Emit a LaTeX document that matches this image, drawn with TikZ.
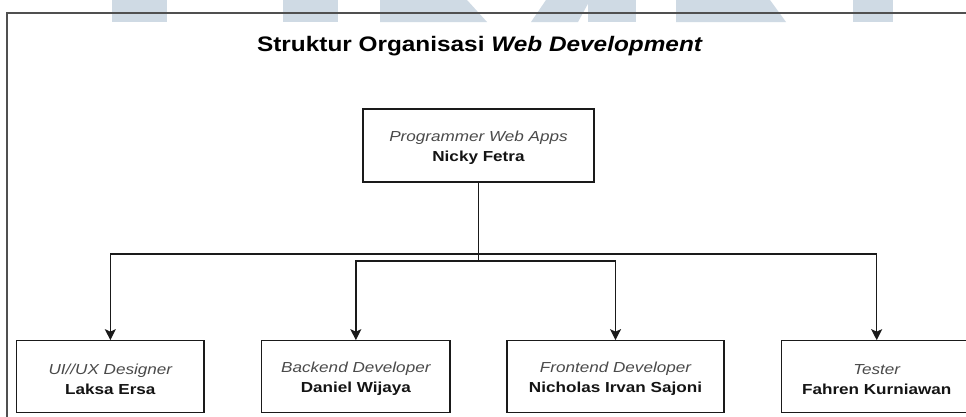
\documentclass[tikz,border=0pt]{standalone}
\usepackage{fontspec}
\setmainfont{Liberation Sans}
\usepackage{graphicx}
\usetikzlibrary{arrows.meta}
\definecolor{wm}{HTML}{CFDAE4}
\definecolor{framec}{HTML}{505050}
\definecolor{linec}{HTML}{1A1A1A}
\definecolor{rolec}{HTML}{4A4A4A}
\definecolor{namec}{HTML}{141414}
\newcommand{\wide}[1]{\scalebox{1.18}[1]{#1}}
\newcommand{\role}[1]{\rule{0pt}{15pt}\wide{\color{rolec}\itshape #1}}
\newcommand{\pname}[1]{\wide{\color{namec}\bfseries #1}}
\begin{document}
\begin{tikzpicture}[x=1pt,y=-1pt,
  box/.style={draw=linec, line width=1.1pt, inner sep=0pt, align=center,
    font=\fontsize{14.5}{20}\selectfont},
  conn/.style={draw=linec, line width=1.4pt},
  arr/.style={conn, -{Stealth[length=11pt,width=11pt,inset=2.5pt]}},
  wmark/.style={fill=wm, draw=none},
  frameline/.style={draw=framec, line width=1.2pt}]
\useasboundingbox (0,0) rectangle (966,416);
\fill[white] (0,0) rectangle (966,416);
% watermark fragments
\fill[wmark] (112,0) rectangle (167,22);
\fill[wmark] (283,0) rectangle (338,22);
\fill[wmark] (380,0) -- (467,0) -- (487,22) -- (380,22) -- cycle;
\fill[wmark] (546,0) -- (590,0) -- (578,22) -- (531,22) -- cycle;
\fill[wmark] (588,0) rectangle (636,22);
\fill[wmark] (676,0) -- (770,0) -- (786,22) -- (676,22) -- cycle;
\fill[wmark] (853,0) rectangle (893,22);
% frame
\draw[frameline] (7,417) -- (7,13) -- (967,13);
% title
\node[anchor=base, inner sep=0pt, font=\fontsize{21}{24}\selectfont\bfseries] (title) at (480,51.7)
  {\scalebox{1.16}[1]{Struktur Organisasi \textit{Web Development}}};
% boxes
\node[box, minimum width=231pt, minimum height=73pt] (top) at (478.5,145.5)
  {\role{Programmer Web Apps}\\\pname{Nicky Fetra}};
\node[box, minimum width=187.3pt, minimum height=72pt] (b1) at (110.35,376.7)
  {\role{UI//UX Designer}\\\pname{Laksa Ersa}};
\node[box, minimum width=188.3pt, minimum height=72pt] (b2) at (355.85,376.7)
  {\role{Backend Developer}\\\pname{Daniel Wijaya}};
\node[box, minimum width=217pt, minimum height=72pt] (b3) at (615.5,376.7)
  {\role{Frontend Developer}\\\pname{Nicholas Irvan Sajoni}};
\node[box, minimum width=190pt, minimum height=72pt] (b4) at (876.7,376.7)
  {\role{Tester}\\\pname{Fahren Kurniawan}};
% connectors
\coordinate (j1) at (478.5,254);
\coordinate (j2) at (478.5,261);
\draw[conn] (top.south) -- (j2);
\draw[arr] (j1) -| (b1.north);
\draw[arr] (j1) -| (b4.north);
\draw[arr] (j2) -| (b2.north);
\draw[arr] (j2) -| (b3.north);
\end{tikzpicture}
\end{document}
